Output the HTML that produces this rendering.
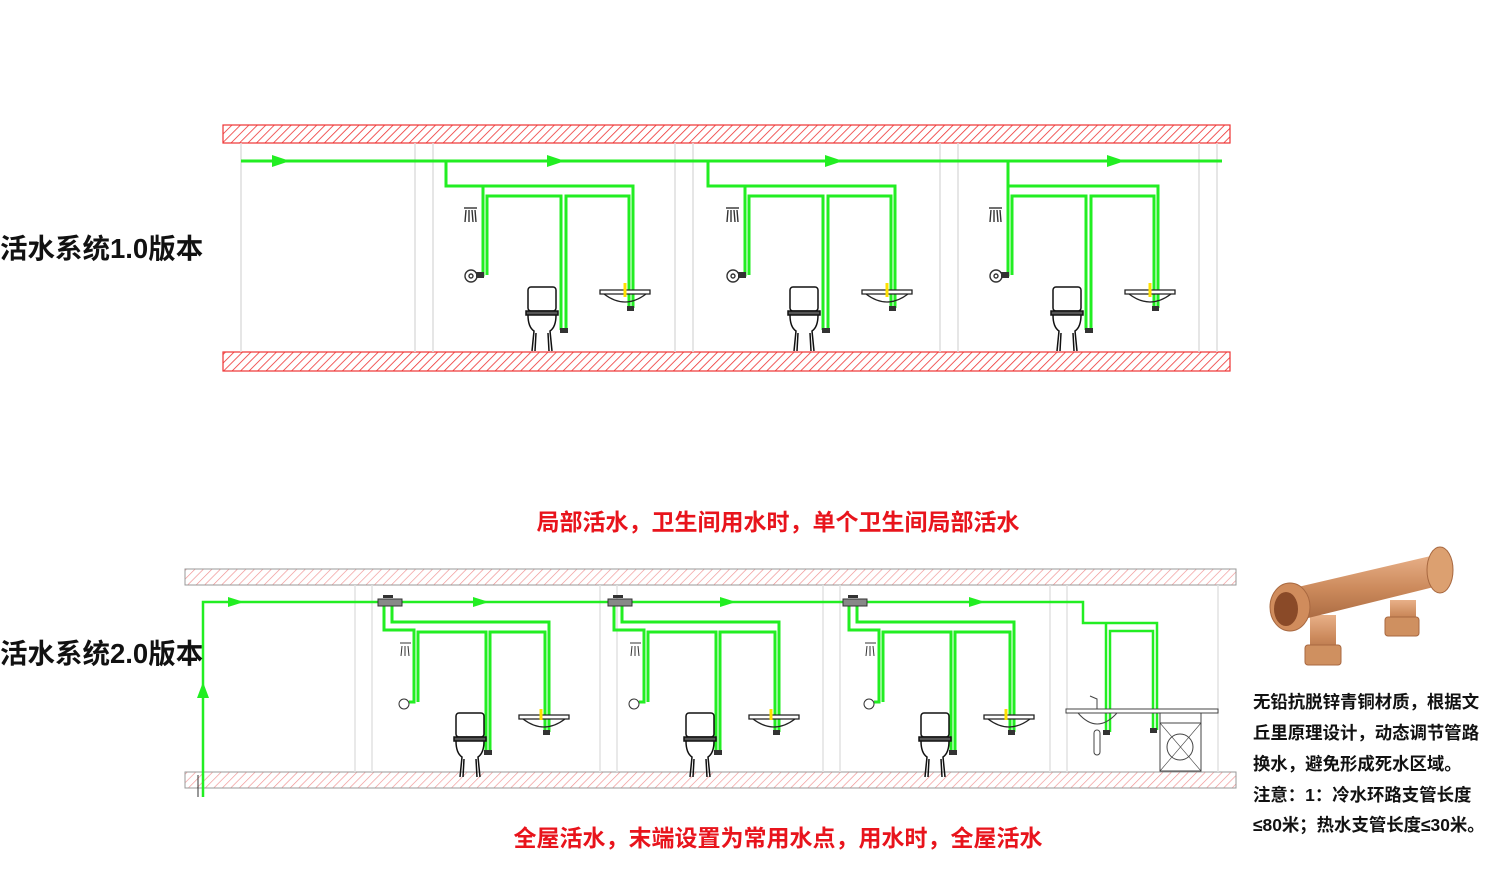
<!DOCTYPE html>
<html><head><meta charset="utf-8"><style>
body{margin:0;background:#fff;width:1500px;height:886px;overflow:hidden}
svg{display:block}
text{font-family:"Liberation Sans","Noto Sans CJK SC",sans-serif;font-weight:bold}
</style></head><body>
<svg width="1500" height="886" viewBox="0 0 1500 886" xmlns="http://www.w3.org/2000/svg">
<defs>
<pattern id="h" width="6" height="6" patternUnits="userSpaceOnUse" patternTransform="rotate(45)">
<rect width="6" height="6" fill="#fff"/><line x1="0" y1="0" x2="0" y2="6" stroke="#e33" stroke-width="1.6"/></pattern>
<pattern id="h2" width="6" height="6" patternUnits="userSpaceOnUse" patternTransform="rotate(45)">
<rect width="6" height="6" fill="#fff"/><line x1="0" y1="0" x2="0" y2="6" stroke="#f09090" stroke-width="1.3"/></pattern>
<linearGradient id="br" x1="0" y1="0" x2="0" y2="1"><stop offset="0" stop-color="#e8b088"/><stop offset=".5" stop-color="#cc8a5c"/><stop offset="1" stop-color="#a86840"/></linearGradient>
<g id="toilet" fill="#fff" stroke="#111" stroke-width="1.5">
<rect x="0" y="0" width="28" height="24" rx="3"/><rect x="-2" y="24" width="32" height="4" fill="#555"/>
<path d="M0 28 Q0 40 6 44 L4 64 M28 28 Q28 40 22 44 L24 64" fill="none"/><path d="M8 46 L7 64 M20 46 L21 64" fill="none"/></g>
<g id="sink" stroke="#222" stroke-width="1.3" fill="#fff">
<path d="M0 0 H50 V4 H0 Z"/><path d="M4 4 Q25 20 46 4" fill="none"/></g>
<g id="b1">
<g fill="none" stroke="#22ee22" stroke-width="3">
<polyline points="483,186 483,275 478,275"/>
<polyline points="487,275 487,196 561,196 561,330"/>
<polyline points="566,330 566,196 629,196 629,307"/>
</g>
<g stroke="#333" stroke-width="1.4" fill="none"><line x1="464" y1="208" x2="477" y2="208"/><path d="M466 210 L465 222 M469 210 L469 222 M472 210 L473 222 M475 210 L476 222"/>
<circle cx="471" cy="276" r="6"/><circle cx="471" cy="276" r="2"/></g>
<use href="#toilet" x="528" y="287"/>
<use href="#sink" x="600" y="290"/>
<line x1="625" y1="283" x2="625" y2="297" stroke="#ffe000" stroke-width="3"/>
<rect x="560" y="328" width="8" height="5" fill="#333"/><rect x="627" y="306" width="7" height="5" fill="#333"/><rect x="476" y="272" width="8" height="6" fill="#333"/>
</g>
<g id="b2">
<g fill="none" stroke="#22ee22" stroke-width="3">
<polyline points="384,606 384,630 414,630 414,702 409,702"/>
<polyline points="392,606 392,622 549,622 549,732"/>
<polyline points="418,702 418,632 486,632 486,752"/>
<polyline points="490,752 490,632 545,632 545,732"/>
</g>
<rect x="378" y="599" width="24" height="7" fill="#888" stroke="#333"/><rect x="383" y="595" width="10" height="3" fill="#333"/>
<g stroke="#333" stroke-width="1" fill="none"><line x1="400" y1="643" x2="411" y2="643"/><path d="M402 646 L401 656 M405 646 L405 656 M408 646 L409 656"/>
<circle cx="404" cy="704" r="5"/></g>
<use href="#toilet" x="456" y="713"/>
<use href="#sink" x="519" y="715"/>
<line x1="541" y1="709" x2="541" y2="720" stroke="#ffe000" stroke-width="3"/>
<rect x="484" y="750" width="8" height="5" fill="#333"/><rect x="543" y="730" width="7" height="5" fill="#333"/>
</g>
</defs>

<!-- TOP -->
<rect x="223" y="125" width="1007" height="18" fill="url(#h)" stroke="#e33" stroke-width="1.2"/>
<rect x="223" y="352" width="1007" height="19" fill="url(#h)" stroke="#e33" stroke-width="1.2"/>
<g stroke="#ddd" stroke-width="1.5">
<line x1="241" y1="143" x2="241" y2="352"/><line x1="415" y1="143" x2="415" y2="352"/><line x1="433" y1="143" x2="433" y2="352"/>
<line x1="675" y1="143" x2="675" y2="352"/><line x1="693" y1="143" x2="693" y2="352"/><line x1="940" y1="143" x2="940" y2="352"/>
<line x1="958" y1="143" x2="958" y2="352"/><line x1="1199" y1="143" x2="1199" y2="352"/><line x1="1217" y1="143" x2="1217" y2="352"/>
</g>
<g fill="none" stroke="#22ee22" stroke-width="3">
<line x1="241" y1="161" x2="1222" y2="161"/>
<polyline points="446,161 446,186 633,186 633,308"/>
<polyline points="708,161 708,186 895,186 895,308"/>
<polyline points="1008,161 1008,186 1158,186 1158,308"/>
</g>
<g fill="#22ee22"><path d="M272 155 L290 161 L272 167Z"/><path d="M547 155 L565 161 L547 167Z"/><path d="M825 155 L843 161 L825 167Z"/><path d="M1107 155 L1125 161 L1107 167Z"/></g>
<use href="#b1"/><use href="#b1" x="262"/><use href="#b1" x="525"/>

<!-- BOTTOM -->
<rect x="185" y="569" width="1051" height="16" fill="url(#h2)" stroke="#999" stroke-width="1"/>
<rect x="185" y="772" width="1051" height="16" fill="url(#h2)" stroke="#999" stroke-width="1"/>
<g stroke="#e2e2e2" stroke-width="1.5">
<line x1="355" y1="585" x2="355" y2="772"/><line x1="372" y1="585" x2="372" y2="772"/><line x1="600" y1="585" x2="600" y2="772"/>
<line x1="617" y1="585" x2="617" y2="772"/><line x1="823" y1="585" x2="823" y2="772"/><line x1="840" y1="585" x2="840" y2="772"/>
<line x1="1050" y1="585" x2="1050" y2="772"/><line x1="1067" y1="585" x2="1067" y2="772"/><line x1="1218" y1="585" x2="1218" y2="772"/>
</g>
<g fill="none" stroke="#22ee22" stroke-width="2.5">
<polyline points="203,797 203,602 1083,602 1083,623 1157,623 1157,730"/>
<polyline points="1106,623 1106,732"/>
<polyline points="1110,732 1110,631 1153,631 1153,730"/>
</g>
<line x1="198" y1="775" x2="198" y2="797" stroke="#333" stroke-width="1"/>
<g fill="#22ee22"><path d="M197 698 L203 682 L209 698Z"/><path d="M228 597 L244 602 L228 607Z"/><path d="M473 597 L489 602 L473 607Z"/><path d="M720 597 L736 602 L720 607Z"/><path d="M969 597 L985 602 L969 607Z"/></g>
<use href="#b2"/><use href="#b2" x="230"/><use href="#b2" x="465"/>
<g stroke="#444" stroke-width="1" fill="#fff">
<rect x="1066" y="709" width="152" height="4"/>
<path d="M1078 713 Q1097 735 1117 713" fill="none"/>
<rect x="1094" y="730" width="6" height="25" rx="3"/>
<path d="M1097 709 V699 L1090 696"/>
<rect x="1160" y="713" width="41" height="58"/><rect x="1160" y="723" width="41" height="48" fill="none"/>
<circle cx="1180" cy="747" r="13"/>
<path d="M1160 723 L1201 771 M1201 723 L1160 771" stroke-width="0.6"/>
</g>
<rect x="1103" y="730" width="7" height="5" fill="#333"/><rect x="1150" y="728" width="7" height="5" fill="#333"/>

<!-- brass fitting -->
<g>
<rect x="1310" y="615" width="26" height="45" fill="url(#br)"/><rect x="1305" y="645" width="36" height="20" rx="3" fill="#cf9060" stroke="#a86840"/>
<rect x="1390" y="600" width="26" height="30" fill="url(#br)"/><rect x="1385" y="617" width="34" height="19" rx="3" fill="#cf9060" stroke="#a86840"/>
<polygon points="1285,590 1435,555 1442,585 1292,622" fill="url(#br)"/>
<ellipse cx="1290" cy="607" rx="20" ry="24" fill="#d08c5c" stroke="#a86840"/>
<ellipse cx="1286" cy="609" rx="12" ry="17" fill="#8a4a28"/>
<ellipse cx="1440" cy="570" rx="13" ry="23" fill="#dca070" stroke="#a86840"/>
</g>

<!-- text -->
<text x="0" y="258" font-size="27.5" fill="#111">活水系统1.0版本</text>
<text x="0" y="663" font-size="27.5" fill="#111">活水系统2.0版本</text>
<text x="778" y="530" font-size="23" fill="#e8141c" text-anchor="middle">局部活水，卫生间用水时，单个卫生间局部活水</text>
<text x="778" y="846" font-size="23" fill="#e8141c" text-anchor="middle">全屋活水，末端设置为常用水点，用水时，全屋活水</text>
<g font-size="17.4" fill="#111">
<text x="1253" y="708">无铅抗脱锌青铜材质，根据文</text>
<text x="1253" y="739">丘里原理设计，动态调节管路</text>
<text x="1253" y="770">换水，避免形成死水区域。</text>
<text x="1253" y="801">注意：1：冷水环路支管长度</text>
<text x="1253" y="831">≤80米；热水支管长度≤30米。</text>
</g>
</svg>
</body></html>
